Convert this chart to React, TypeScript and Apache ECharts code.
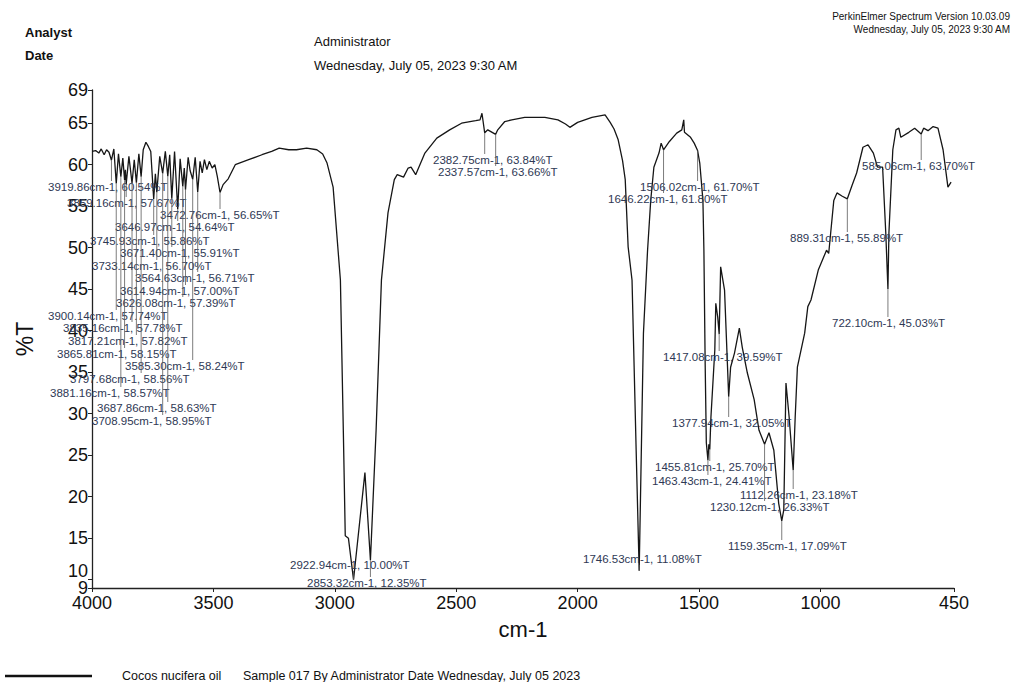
import React, { useEffect, useRef } from "react";
import * as echarts from "echarts";

// FT-IR spectrum: [wavenumber cm-1, %T]
const spectrum: [number, number][] = [
  [4000, 61.6], [3985, 61.7], [3972, 61.4], [3962, 61.9], [3950, 61.2], [3940, 61.8], [3930, 61.5],
  [3919.86, 60.54], [3910, 61.9], [3900.14, 57.74], [3891, 61.3], [3881.16, 58.57], [3873, 60.8],
  [3865.81, 58.15], [3862.5, 59.4], [3859.16, 57.67], [3848, 61.0], [3835.16, 57.78], [3826, 60.6],
  [3817.21, 57.82], [3807, 61.3], [3797.68, 58.56], [3789, 61.8], [3778, 62.7], [3768, 62.2],
  [3758, 61.6], [3745.93, 55.86], [3739, 58.9], [3733.14, 56.7], [3721, 61.0], [3708.95, 58.95],
  [3698, 61.6], [3687.86, 58.63], [3680, 61.2], [3671.4, 55.91], [3660, 61.6], [3646.97, 54.64],
  [3637, 60.7], [3626.08, 57.39], [3620, 59.6], [3614.94, 57.0], [3604, 60.9], [3596, 59.3],
  [3585.3, 58.24], [3575, 60.9], [3564.63, 56.71], [3555, 60.4], [3546, 59.0], [3537, 60.6],
  [3527, 59.4], [3517, 60.4], [3505, 59.6], [3494, 60.0], [3484, 58.6], [3472.76, 56.65],
  [3460, 57.6], [3439, 58.3], [3410, 60.0], [3355, 60.6], [3300, 61.2], [3260, 61.6], [3229, 62.0],
  [3190, 61.8], [3158, 61.8], [3116, 62.0], [3074, 61.8], [3050, 61.3], [3032, 60.2], [3007, 57.3],
  [2977, 46.1], [2965, 28.0], [2957, 15.3], [2944, 15.0], [2922.94, 10.0], [2876, 22.9],
  [2853.32, 12.35], [2830, 28.0], [2808, 46.1], [2781, 54.2], [2755, 58.2], [2743, 58.8],
  [2717, 58.5], [2698, 59.6], [2686, 59.7], [2667, 58.8], [2629, 61.4], [2580, 63.2], [2527, 64.2],
  [2478, 65.0], [2420, 65.3], [2402, 65.4], [2394, 66.2], [2382.75, 63.84], [2370, 64.2],
  [2337.57, 63.66], [2329, 64.2], [2300, 65.2], [2271, 65.4], [2218, 65.7], [2135, 65.7],
  [2081, 65.4], [2050, 64.9], [2032, 64.5], [2000, 65.1], [1941, 65.7], [1887, 66.0], [1866, 65.1],
  [1850, 64.3], [1833, 63.0], [1815, 60.5], [1804, 58.2], [1792, 50.1], [1776, 46.1], [1759, 25.6],
  [1746.53, 11.08], [1729, 39.7], [1712, 49.7], [1699, 55.7], [1686, 59.7], [1665, 61.4],
  [1656, 62.6], [1646.22, 61.8], [1622, 62.8], [1592, 63.8], [1571, 64.2], [1563, 65.4],
  [1560, 63.9], [1535, 63.3], [1520, 62.6], [1506.02, 61.7], [1497, 60.2], [1484, 55.7],
  [1480, 49.7], [1475, 36.5], [1470, 26.5], [1463.43, 24.41], [1459.6, 26.3], [1455.81, 25.7],
  [1451, 29.6], [1435, 37.7], [1431, 43.3], [1423, 41.6], [1417.08, 39.59], [1411, 47.7],
  [1395, 44.9], [1377.94, 32.05], [1370, 35.6], [1354, 37.3], [1334, 40.3], [1322, 38.0],
  [1301, 34.9], [1273, 31.7], [1253, 28.0], [1230.12, 26.33], [1212, 27.7], [1192, 25.6],
  [1172, 19.2], [1159.35, 17.09], [1151, 18.4], [1142, 33.7], [1129, 29.6], [1112.26, 23.18],
  [1104, 29.6], [1095, 35.6], [1065, 39.7], [1052, 42.9], [1039, 43.7], [1009, 47.3], [975, 49.7],
  [966, 49.3], [945, 55.7], [932, 56.6], [910, 56.2], [889.31, 55.89], [870, 57.5], [851, 59.0],
  [825, 62.1], [804, 62.4], [782, 61.4], [765, 59.7], [744, 59.7], [731, 51.8], [722.1, 45.03],
  [718, 51.8], [702, 61.8], [689, 64.2], [677, 64.4], [669, 63.3], [636, 63.9], [612, 64.4],
  [585.06, 63.7], [575, 64.4], [557, 64.1], [536, 64.6], [516, 64.4], [495, 61.8], [475, 57.3],
  [462, 57.9],
];

// Labelled peaks: [wavenumber, %T]
const peaks: [number, number][] = [
  [3919.86, 60.54], [3859.16, 57.67], [3472.76, 56.65], [3646.97, 54.64], [3745.93, 55.86],
  [3671.4, 55.91], [3733.14, 56.7], [3564.63, 56.71], [3614.94, 57.0], [3626.08, 57.39],
  [3900.14, 57.74], [3835.16, 57.78], [3817.21, 57.82], [3865.81, 58.15], [3585.3, 58.24],
  [3797.68, 58.56], [3881.16, 58.57], [3687.86, 58.63], [3708.95, 58.95], [2382.75, 63.84],
  [2337.57, 63.66], [1506.02, 61.7], [1646.22, 61.8], [585.06, 63.7], [889.31, 55.89],
  [722.1, 45.03], [1417.08, 39.59], [1377.94, 32.05], [1455.81, 25.7], [1463.43, 24.41],
  [1112.26, 23.18], [1230.12, 26.33], [1159.35, 17.09], [1746.53, 11.08], [2922.94, 10.0],
  [2853.32, 12.35],
];

// Layout: pixel position (left, middle) of each peak label, same order as peaks
const labelLayout: [number, number][] = [
  [48, 187], [67, 203], [160, 215], [115, 227], [90, 241], [120, 253], [92, 266], [135, 278],
  [120, 291], [116, 303], [48, 316], [63, 328], [68, 341], [57, 354], [125, 366], [70, 379],
  [50, 393], [97, 408], [92, 421], [433, 160], [438, 172], [640, 187], [608, 199], [862, 166],
  [790, 238], [832, 323], [663, 357], [672, 423], [655, 467], [652, 481], [740, 495], [710, 507],
  [728, 546], [583, 559], [290, 565], [307, 583],
];

const xTickValues = [4000, 3500, 3000, 2500, 2000, 1500, 1000, 450];
const yTickValues = [9, 10, 15, 20, 25, 30, 35, 40, 45, 50, 55, 60, 65, 69];
const yLabelValues = [9, 15, 20, 25, 30, 35, 40, 45, 50, 55, 60, 65, 69];
const yLabelValuesLow = [10];

const sans = "'Liberation Sans', Arial, sans-serif";

export default function App() {
  const ref = useRef<HTMLDivElement>(null);
  useEffect(() => {
    if (!ref.current) return;
    const chart = echarts.init(ref.current, undefined, { renderer: "svg" });
    const labelFont = 11.5;
    const yLabelBase = {
      formatter: (v: number) => String(v),
      showMinLabel: true,
      showMaxLabel: true,
      hideOverlap: false,
      fontSize: 18,
      margin: 4,
      color: "#111",
      fontFamily: sans,
    };
    const option: any = {
      animation: false,
      backgroundColor: "#ffffff",
      grid: { left: 92, right: 60, top: 90, bottom: 94 },
      xAxis: {
        type: "value",
        inverse: true,
        min: 450,
        max: 4000,
        name: "cm-1",
        nameLocation: "middle",
        nameGap: 30,
        nameTextStyle: { fontSize: 22, color: "#111", fontFamily: sans },
        axisLine: { show: true, onZero: false, lineStyle: { color: "#222", width: 1.3 } },
        axisTick: { show: true, length: 4, customValues: xTickValues, lineStyle: { color: "#222" } },
        axisLabel: {
          customValues: xTickValues,
          formatter: (v: number) => String(v),
          showMinLabel: true,
          showMaxLabel: true,
          hideOverlap: false,
          fontSize: 18,
          margin: 6,
          color: "#111",
          fontFamily: sans,
        },
        splitLine: { show: false },
      },
      yAxis: [
        {
          type: "value",
          min: 9,
          max: 69,
          position: "left",
          name: "%T",
          nameLocation: "middle",
          nameGap: 56,
          nameRotate: 90,
          nameTextStyle: { fontSize: 23, color: "#111", fontFamily: sans },
          axisLine: { show: true, onZero: false, lineStyle: { color: "#222", width: 1.3 } },
          axisTick: { show: true, length: 4, customValues: yTickValues, lineStyle: { color: "#222" } },
          axisLabel: { ...yLabelBase, customValues: yLabelValues },
          splitLine: { show: false },
        },
        {
          type: "value",
          min: 9,
          max: 69,
          position: "left",
          axisLine: { show: false },
          axisTick: { show: false },
          axisLabel: { ...yLabelBase, customValues: yLabelValuesLow, verticalAlign: "bottom" },
          splitLine: { show: false },
        },
      ],
      series: [
        {
          type: "line",
          data: spectrum,
          showSymbol: false,
          silent: true,
          lineStyle: { color: "#161616", width: 1.3 },
          z: 2,
        },
        {
          type: "custom",
          data: peaks,
          silent: true,
          clip: false,
          z: 3,
          renderItem: (params: any, api: any) => {
            const i = params.dataIndex;
            const p = api.coord([api.value(0), api.value(1)]);
            const [lx, ly] = labelLayout[i];
            const text = `${peaks[i][0].toFixed(2)}cm-1, ${peaks[i][1].toFixed(2)}%T`;
            const w = text.length * 5.9;
            const ex = Math.min(Math.max(p[0], lx + 3), lx + w - 3);
            const ey = ly > p[1] ? ly - 6 : ly + 6;
            return {
              type: "group",
              children: [
                {
                  type: "line",
                  shape: { x1: p[0], y1: p[1], x2: ex, y2: ey },
                  style: { stroke: "#5a5a5a", lineWidth: 0.8 },
                },
                {
                  type: "text",
                  x: lx,
                  y: ly,
                  style: {
                    text,
                    fill: "#2e3854",
                    fontSize: labelFont,
                    fontFamily: sans,
                    align: "left",
                    verticalAlign: "middle",
                  },
                },
              ],
            };
          },
        },
      ],
      graphic: [
        { type: "text", x: 25, y: 32, style: { text: "Analyst", fontSize: 13, fontWeight: "bold", fill: "#111", fontFamily: sans, verticalAlign: "middle" } },
        { type: "text", x: 25, y: 55, style: { text: "Date", fontSize: 13, fontWeight: "bold", fill: "#111", fontFamily: sans, verticalAlign: "middle" } },
        { type: "text", x: 314, y: 41, style: { text: "Administrator", fontSize: 13, fill: "#111", fontFamily: sans, verticalAlign: "middle" } },
        { type: "text", x: 314, y: 65, style: { text: "Wednesday, July 05, 2023 9:30 AM", fontSize: 13, fill: "#111", fontFamily: sans, verticalAlign: "middle" } },
        { type: "text", x: 1010, y: 16, style: { text: "PerkinElmer Spectrum Version 10.03.09", fontSize: 10, fill: "#111", fontFamily: sans, align: "right", verticalAlign: "middle" } },
        { type: "text", x: 1010, y: 29, style: { text: "Wednesday, July 05, 2023 9:30 AM", fontSize: 10, fill: "#111", fontFamily: sans, align: "right", verticalAlign: "middle" } },
        { type: "line", shape: { x1: 5, y1: 676, x2: 92, y2: 676 }, style: { stroke: "#111", lineWidth: 2.5 } },
        { type: "text", x: 122, y: 676, style: { text: "Cocos nucifera oil", fontSize: 12.5, fill: "#111", fontFamily: sans, verticalAlign: "middle" } },
        { type: "text", x: 243, y: 676, style: { text: "Sample 017 By Administrator Date Wednesday, July 05 2023", fontSize: 12.5, fill: "#111", fontFamily: sans, verticalAlign: "middle" } },
      ],
    };
    chart.setOption(option);
    return () => chart.dispose();
  }, []);
  return (
    <div
      ref={ref}
      style={{ position: "absolute", left: 0, top: 0, width: 1014, height: 682 }}
    />
  );
}
